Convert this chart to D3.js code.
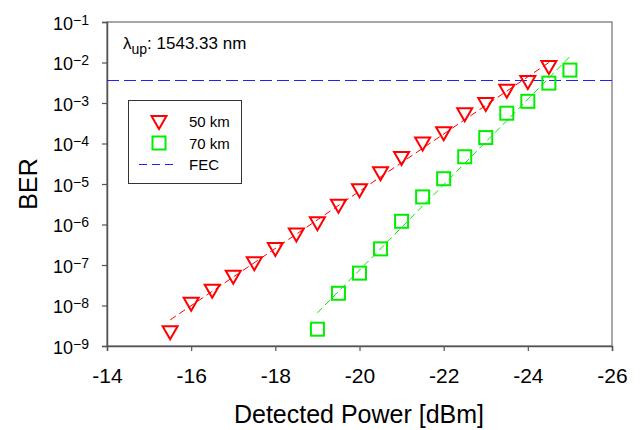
<!DOCTYPE html>
<html>
<head>
<meta charset="utf-8">
<script src="https://cdn.jsdelivr.net/npm/d3@7"></script>
<style>
  body { margin: 0; background: #fff; }
  svg text { font-family: Arial, "Liberation Sans", sans-serif; fill: #000; }
</style>
</head>
<body>
<div id="chart"></div>
<script>
// detected power [dBm]
var power50 = [-15.5, -16, -16.5, -17, -17.5, -18, -18.5, -19, -19.5, -20, -20.5, -21, -21.5, -22, -22.5, -23, -23.5, -24, -24.5];
var ber50 = [2.2e-9, 1.1e-8, 2.3e-8, 5.1e-8, 1.1e-7, 2.5e-7, 5.7e-7, 1.07e-6, 2.9e-6, 7.0e-6, 1.85e-5, 4.4e-5, 1.0e-4, 1.8e-4, 5.3e-4, 9.5e-4, 2.0e-3, 3.3e-3, 7.7e-3];
var power70 = [-19, -19.5, -20, -20.5, -21, -21.5, -22, -22.5, -23, -23.5, -24, -24.5, -25];
var ber70 = [2.6e-9, 2.0e-8, 6.3e-8, 2.5e-7, 1.2e-6, 4.8e-6, 1.35e-5, 4.7e-5, 1.4e-4, 5.6e-4, 1.1e-3, 3.1e-3, 6.5e-3];
// dashed fit lines, end points
var fit50 = [[-15.5, 4.4e-9], [-24.5, 1.0e-2]];
var fit70 = [[-19, 6.6e-9], [-25, 1.4e-2]];
var fecLevel = 3.8e-3;
var xTicks = [-14, -16, -18, -20, -22, -24, -26];
var yExps = [-1, -2, -3, -4, -5, -6, -7, -8, -9];

var W = 644, H = 430;
var plotL = 107, plotR = 612, plotT = 22, plotB = 346;

var svg = d3.select("#chart").append("svg")
    .attr("width", W)
    .attr("height", H);

var x = d3.scaleLinear().domain([-14, -26]).range([plotL, plotR]);
var y = d3.scaleLog().domain([1e-9, 1e-1]).range([plotB, plotT]);

// frame (top/right)
svg.append("rect")
    .attr("x", plotL).attr("y", plotT)
    .attr("width", plotR - plotL).attr("height", plotB - plotT)
    .attr("fill", "none").attr("stroke", "#6e6e6e").attr("stroke-width", 1.2);

// x axis
var xAxis = svg.append("g")
    .attr("transform", "translate(0," + plotB + ")")
    .call(d3.axisBottom(x).tickValues(xTicks).tickSize(5).tickFormat(function (d) { return d; }));
xAxis.selectAll("text")
    .attr("dy", 0).attr("y", 37)
    .style("font-size", "21px");

// y axis
var yAxis = svg.append("g")
    .attr("transform", "translate(" + plotL + ",0)")
    .call(d3.axisLeft(y).tickValues(yExps.map(function (e) { return Math.pow(10, e); })).tickSize(5).tickFormat(""));

yAxis.selectAll(".tick").each(function (d) {
    var t = d3.select(this).append("text")
        .attr("x", -18).attr("y", 7)
        .attr("text-anchor", "end")
        .style("font-size", "18px")
        .style("fill", "#000");
    t.append("tspan").text("10");
    t.append("tspan").attr("dy", -5).style("font-size", "14px")
        .text(d3.format("d")(Math.round(Math.log10(d))));
});

[xAxis, yAxis].forEach(function (a) {
    a.select(".domain").attr("stroke", "#555").attr("stroke-width", 1.5);
    a.selectAll(".tick line").attr("stroke", "#555").attr("stroke-width", 1.2);
});

// axis titles
svg.append("text")
    .attr("x", 359).attr("y", 423)
    .attr("text-anchor", "middle")
    .style("font-size", "25px")
    .text("Detected Power [dBm]");

svg.append("text")
    .attr("transform", "translate(37," + ((plotT + plotB) / 2) + ") rotate(-90)")
    .attr("text-anchor", "middle")
    .style("font-size", "25px")
    .text("BER");

// FEC threshold
svg.append("line")
    .attr("x1", plotL).attr("x2", plotR)
    .attr("y1", Math.round(y(fecLevel)) + 0.5).attr("y2", Math.round(y(fecLevel)) + 0.5)
    .attr("stroke", "#2020ff").attr("stroke-width", 1.2)
    .attr("stroke-dasharray", "12,5");

// fit lines
var line = d3.line()
    .x(function (d) { return x(d[0]); })
    .y(function (d) { return y(d[1]); });

svg.append("path").datum(fit50)
    .attr("d", line)
    .attr("fill", "none").attr("stroke", "#ff0000").attr("stroke-width", 1)
    .attr("stroke-dasharray", "7,4");

svg.append("path").datum(fit70)
    .attr("d", line)
    .attr("fill", "none").attr("stroke", "#00ee00").attr("stroke-width", 1)
    .attr("stroke-dasharray", "7,4");

// markers
var triPath = "M-7.5,-6 L7.5,-6 L0,7 Z";

svg.append("g").selectAll("path")
    .data(power50.map(function (p, i) { return [p, ber50[i]]; }))
    .enter().append("path")
    .attr("d", triPath)
    .attr("transform", function (d) { return "translate(" + x(d[0]) + "," + y(d[1]) + ")"; })
    .attr("fill", "none").attr("stroke", "#ff0000").attr("stroke-width", 2);

svg.append("g").selectAll("rect")
    .data(power70.map(function (p, i) { return [p, ber70[i]]; }))
    .enter().append("rect")
    .attr("x", function (d) { return x(d[0]) - 6.5; })
    .attr("y", function (d) { return y(d[1]) - 6.5; })
    .attr("width", 13).attr("height", 13)
    .attr("fill", "none").attr("stroke", "#00ee00").attr("stroke-width", 2);

// wavelength label
var lab = svg.append("text")
    .attr("x", 123).attr("y", 49)
    .style("font-size", "17px");
lab.append("tspan").text("\u03bb");
lab.append("tspan").attr("dy", 5).style("font-size", "14px").text("up");
lab.append("tspan").attr("dy", -5).text(": 1543.33 nm");

// legend
var legend = svg.append("g");
legend.append("rect")
    .attr("x", 128.5).attr("y", 100.5)
    .attr("width", 113).attr("height", 83)
    .attr("fill", "#fff").attr("stroke", "#333").attr("stroke-width", 1);

legend.append("path")
    .attr("d", triPath)
    .attr("transform", "translate(159,122)")
    .attr("fill", "none").attr("stroke", "#ff0000").attr("stroke-width", 2);
legend.append("rect")
    .attr("x", 152.5).attr("y", 136.5).attr("width", 13).attr("height", 13)
    .attr("fill", "none").attr("stroke", "#00ee00").attr("stroke-width", 2);
legend.append("line")
    .attr("x1", 139).attr("x2", 176).attr("y1", 164.5).attr("y2", 164.5)
    .attr("stroke", "#2020ff").attr("stroke-width", 1.2)
    .attr("stroke-dasharray", "8,5");

var legendLabels = ["50 km", "70 km", "FEC"];
legend.selectAll("text.lg")
    .data(legendLabels)
    .enter().append("text")
    .attr("class", "lg")
    .attr("x", 189)
    .attr("y", function (d, i) { return 127 + i * 21.5; })
    .style("font-size", "15px")
    .text(function (d) { return d; });
</script>
</body>
</html>
